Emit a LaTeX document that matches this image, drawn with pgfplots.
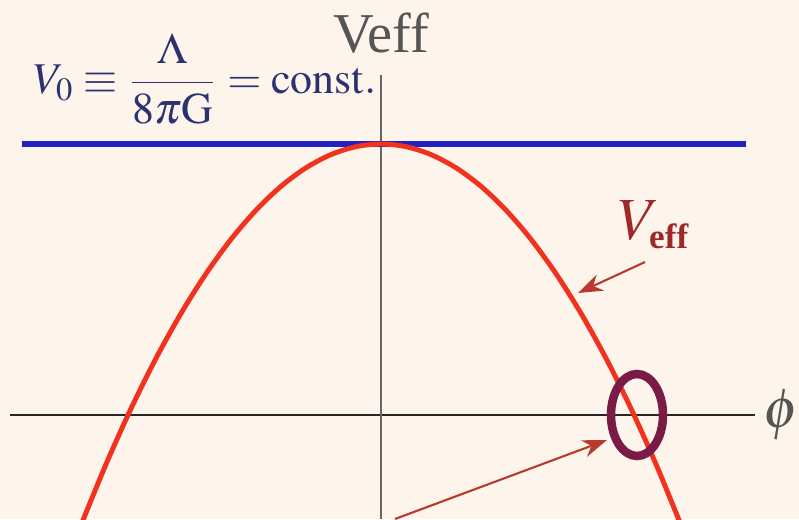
\documentclass[border=0pt]{standalone}
\usepackage{pgfplots}
\pgfplotsset{compat=1.18}
\usepackage{mathptmx}
\usepackage{fontspec}
\setmainfont{Liberation Serif}
\usetikzlibrary{arrows.meta}
\definecolor{bg}{HTML}{FDF5EC}
\definecolor{vblue}{HTML}{2222C4}
\definecolor{vred}{HTML}{F0321E}
\definecolor{navy}{HTML}{2C3270}
\definecolor{dred}{HTML}{A02828}
\definecolor{arr}{HTML}{B83A2E}
\definecolor{maroon}{HTML}{7A1A46}
\definecolor{ttl}{HTML}{555555}
\begin{document}
\begin{tikzpicture}
\begin{axis}[scale only axis, width=7.99cm, height=5.19cm,
  xmin=0, xmax=799, ymin=0, ymax=519,
  axis line style={draw=none}, ticks=none,
  axis background/.style={fill=bg}]
% axes
\addplot[color=black!85, line width=0.7pt] coordinates {(10,104) (755,104)};
\addplot[color=black!60, line width=0.5pt] coordinates {(381,0) (381,444)};
% V0 constant
\addplot[color=vblue, line width=1.7pt] coordinates {(22,375) (746,375)};
% Veff
\addplot[color=vred, line width=1.4pt, smooth] coordinates {
(81,-6.1) (106,54.8) (131,110.4) (156,160.7) (181,205.6) (206,245.3)
(231,279.7) (256,308.8) (281,332.7) (306,351.2) (331,364.4) (356,372.35)
(381,375) (406,372.35) (431,364.4) (456,351.2) (481,332.7) (506,308.8)
(531,279.7) (556,245.3) (581,205.6) (606,160.7) (631,110.4) (656,54.8) (681,-6.1)};
% annotations
\draw[color=maroon, line width=0.085cm] (axis cs:637,104) ellipse [x radius=0.26cm, y radius=0.41cm];
\draw[color=arr, line width=0.6pt, -{Stealth[length=7pt,width=5pt]}] (axis cs:645,257) -- (axis cs:578,226);
\draw[color=arr, line width=0.6pt, -{Stealth[length=7pt,width=5pt]}] (axis cs:395,0) -- (axis cs:607,79);
\node[text=ttl, font=\fontsize{16}{18}\selectfont] at (axis cs:381,486) {Veff};
\node[text=navy, font=\fontsize{12.5}{14}\selectfont] at (axis cs:205,440) {$\displaystyle V_0 \equiv \frac{\Lambda}{8\pi\mathrm{G}} = \mathrm{const.}$};
\node[text=dred, anchor=base west, inner sep=0pt, font=\fontsize{17}{19}\selectfont] at (axis cs:618,279) {$V_{\textbf{\fontsize{10}{11}\selectfont eff}}$};
\node[text=ttl, inner sep=0pt, font=\fontsize{16}{18}\selectfont] at (axis cs:781,104) {$\phi$};
\end{axis}
\end{tikzpicture}
\end{document}
